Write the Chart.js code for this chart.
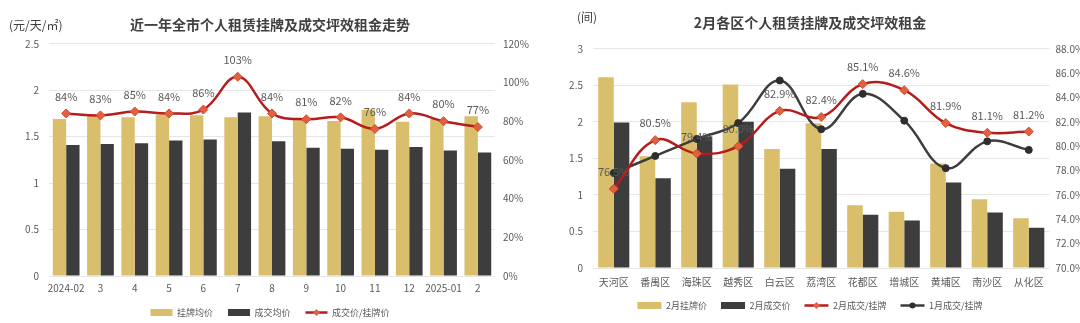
<!DOCTYPE html>
<html>
<head>
<meta charset="utf-8">
<script src="https://cdn.jsdelivr.net/npm/chart.js@4.4.1/dist/chart.umd.min.js"></script>
<style>
  body { margin: 0; background: #fff; width: 1080px; height: 323px; overflow: hidden; position: relative; font-family: "Noto Sans CJK SC", sans-serif; }
  .box { position: absolute; top: 0; height: 323px; width: 540px; }
  .unit { position: absolute; font-size: 12px; color: #404040; }
</style>
</head>
<body>
<div class="box" style="left:0"><canvas id="trendChart"></canvas></div>
<div class="box" style="left:540px"><canvas id="districtChart"></canvas></div>
<div class="unit" style="left:9px;top:16px">(元/天/㎡)</div>
<div class="unit" style="left:577px;top:8px">(间)</div>
<script>
// 左图：近一年全市
const months = ['2024-02', '3', '4', '5', '6', '7', '8', '9', '10', '11', '12', '2025-01', '2'];
const listingAvg = [1.69, 1.73, 1.71, 1.74, 1.73, 1.71, 1.72, 1.68, 1.67, 1.79, 1.66, 1.69, 1.72];
const dealAvg = [1.41, 1.42, 1.43, 1.46, 1.47, 1.76, 1.45, 1.38, 1.37, 1.36, 1.39, 1.35, 1.33];
const dealRatio = [84, 83, 85, 84, 86, 103, 84, 81, 82, 76, 84, 80, 77];

// 右图：2月各区
const districts = ['天河区', '番禺区', '海珠区', '越秀区', '白云区', '荔湾区', '花都区', '增城区', '黄埔区', '南沙区', '从化区'];
const febListing = [2.61, 1.53, 2.27, 2.51, 1.63, 1.98, 0.86, 0.77, 1.43, 0.94, 0.68];
const febDeal = [1.99, 1.23, 1.80, 2.00, 1.36, 1.63, 0.73, 0.65, 1.17, 0.76, 0.55];
const febRatio = [76.5, 80.5, 79.4, 80.0, 82.9, 82.4, 85.1, 84.6, 81.9, 81.1, 81.2];
const janRatio = [77.8, 79.2, 80.6, 81.9, 85.4, 81.4, 84.3, 82.1, 78.2, 80.4, 79.7];

const GOLD = '#d9bf6b';
const DARK = '#3d3d3d';
const RED = '#b71c1c';
const FONT = '"Noto Sans CJK SC", sans-serif';

Chart.defaults.font.family = FONT;
Chart.defaults.color = '#595959';

// 折线数据标签
const pointLabels = {
    id: 'pointLabels',
    afterDatasetsDraw(chart) {
        const ctx = chart.ctx;
        chart.data.datasets.forEach((ds, i) => {
            if (ds.valueDigits === undefined) return;
            const meta = chart.getDatasetMeta(i);
            ctx.save();
            ctx.font = '11px ' + FONT;
            ctx.fillStyle = '#595959';
            ctx.textAlign = 'center';
            ctx.textBaseline = 'middle';
            meta.data.forEach((pt, j) => {
                ctx.fillText(ds.data[j].toFixed(ds.valueDigits) + '%', pt.x, pt.y - 17);
            });
            ctx.restore();
        });
    }
};

// 图例里折线的标记
const legendMarkers = {
    id: 'legendMarkers',
    afterDraw(chart) {
        const legend = chart.legend;
        if (!legend || !legend.legendHitBoxes) return;
        const ctx = chart.ctx;
        const bw = chart.options.plugins.legend.labels.pointStyleWidth;
        legend.legendItems.forEach((item, k) => {
            const ds = chart.data.datasets[item.datasetIndex];
            if (ds.type !== 'line') return;
            const hb = legend.legendHitBoxes[k];
            const x = hb.left + bw / 2, y = hb.top + hb.height / 2;
            ctx.save();
            ctx.fillStyle = ds.pointBackgroundColor;
            ctx.beginPath();
            if (ds.pointStyle === 'rectRot') {
                ctx.moveTo(x, y - 3.5); ctx.lineTo(x + 3.5, y); ctx.lineTo(x, y + 3.5); ctx.lineTo(x - 3.5, y);
                ctx.closePath();
            } else {
                ctx.arc(x, y, 3, 0, Math.PI * 2);
            }
            ctx.fill();
            ctx.restore();
        });
    }
};

function legendOpts(pad, boxW) {
    return {
        position: 'bottom',
        labels: {
            usePointStyle: true,
            pointStyleWidth: boxW,
            boxHeight: 7,
            padding: pad,
            font: { size: 9 },
            color: '#595959',
            sort: (a, b) => a.datasetIndex - b.datasetIndex,
            generateLabels: chart => Chart.defaults.plugins.legend.labels.generateLabels(chart).map(l => {
                const ds = chart.data.datasets[l.datasetIndex];
                l.pointStyle = ds.type === 'line' ? 'line' : 'rect';
                if (ds.type === 'line') { l.strokeStyle = ds.borderColor; l.lineWidth = 2.5; }
                return l;
            })
        }
    };
}

new Chart(document.getElementById('trendChart'), {
    type: 'bar',
    data: {
        labels: months,
        datasets: [
            { label: '挂牌均价', data: listingAvg, backgroundColor: GOLD, order: 1, yAxisID: 'y' },
            { label: '成交均价', data: dealAvg, backgroundColor: DARK, order: 1, yAxisID: 'y' },
            {
                type: 'line', label: '成交价/挂牌价', data: dealRatio, yAxisID: 'y1', order: 0,
                borderColor: RED, borderWidth: 2.5, tension: 0.4,
                pointStyle: 'rectRot', pointRadius: 4.5,
                pointBackgroundColor: '#e2603f', pointBorderColor: '#d24a30', pointBorderWidth: 1,
                valueDigits: 0
            }
        ]
    },
    options: {
        responsive: true,
        maintainAspectRatio: false,
        animation: false,
        datasets: { bar: { categoryPercentage: 0.78, barPercentage: 1.0 } },
        layout: { padding: { bottom: -4 } },
        plugins: {
            title: {
                display: true, text: '近一年全市个人租赁挂牌及成交坪效租金走势',
                color: '#404040', font: { size: 14, weight: 'bold' },
                padding: { top: 16, bottom: 11 }
            },
            legend: legendOpts(15, 22),
            tooltip: { enabled: false }
        },
        scales: {
            x: {
                grid: { display: false, drawTicks: false }, border: { display: false },
                ticks: { font: { size: 10, lineHeight: 1 }, padding: 7, maxRotation: 0, autoSkip: false },
                afterFit: s => { s.height = 17; }
            },
            y: {
                min: 0, max: 2.5,
                ticks: { stepSize: 0.5, font: { size: 10 }, padding: 10, callback: v => String(v) },
                grid: { color: '#e6e6e6', drawTicks: false }, border: { display: false },
                afterFit: s => { s.width = 49; }
            },
            y1: {
                position: 'right', min: 0, max: 120,
                ticks: { stepSize: 20, font: { size: 10 }, padding: 8, callback: v => v + '%' },
                grid: { display: false, drawTicks: false }, border: { display: false },
                afterFit: s => { s.width = 45; }
            }
        }
    },
    plugins: [pointLabels, legendMarkers]
});

new Chart(document.getElementById('districtChart'), {
    type: 'bar',
    data: {
        labels: districts,
        datasets: [
            { label: '2月挂牌价', data: febListing, backgroundColor: GOLD, order: 1, yAxisID: 'y' },
            { label: '2月成交价', data: febDeal, backgroundColor: DARK, order: 1, yAxisID: 'y' },
            {
                type: 'line', label: '2月成交/挂牌', data: febRatio, yAxisID: 'y1', order: 0,
                borderColor: RED, borderWidth: 2.5, tension: 0.4,
                pointStyle: 'rectRot', pointRadius: 4.5,
                pointBackgroundColor: '#e2603f', pointBorderColor: '#d24a30', pointBorderWidth: 1,
                valueDigits: 1
            },
            {
                type: 'line', label: '1月成交/挂牌', data: janRatio, yAxisID: 'y1', order: 0,
                borderColor: DARK, borderWidth: 2.5, tension: 0.4,
                pointStyle: 'circle', pointRadius: 3.5,
                pointBackgroundColor: '#2e2e2e', pointBorderColor: '#2e2e2e', pointBorderWidth: 1
            }
        ]
    },
    options: {
        responsive: true,
        maintainAspectRatio: false,
        animation: false,
        datasets: { bar: { categoryPercentage: 0.75, barPercentage: 1.0 } },
        layout: { padding: { bottom: 3 } },
        plugins: {
            title: {
                display: true, text: '2月各区个人租赁挂牌及成交坪效租金',
                color: '#404040', font: { size: 14, weight: 'bold' },
                padding: { top: 14, bottom: 18 }
            },
            legend: legendOpts(14, 24),
            tooltip: { enabled: false }
        },
        scales: {
            x: {
                grid: { display: false, drawTicks: false }, border: { display: false },
                ticks: { font: { size: 10, lineHeight: 1 }, padding: 9, maxRotation: 0, autoSkip: false },
                afterFit: s => { s.height = 19; }
            },
            y: {
                min: 0, max: 3,
                ticks: { stepSize: 0.5, font: { size: 10 }, padding: 10, callback: v => String(v) },
                grid: { color: '#e6e6e6', drawTicks: false }, border: { display: false },
                afterFit: s => { s.width = 53; }
            },
            y1: {
                position: 'right', min: 70, max: 88,
                ticks: { stepSize: 2, font: { size: 10 }, padding: 6, callback: v => v.toFixed(1) + '%' },
                grid: { display: false, drawTicks: false }, border: { display: false },
                afterFit: s => { s.width = 30.5; }
            }
        }
    },
    plugins: [pointLabels, legendMarkers]
});
</script>
</body>
</html>
